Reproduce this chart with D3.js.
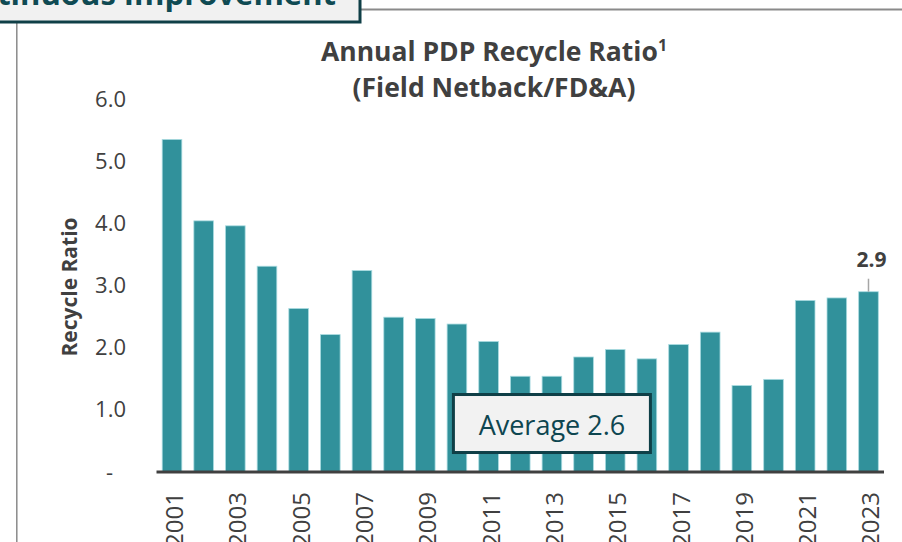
<!DOCTYPE html>
<html>
<head>
<meta charset="utf-8">
<script src="https://cdn.jsdelivr.net/npm/d3@7"></script>
<style>
  body { margin: 0; background: #fff; }
  svg { display: block; }
</style>
</head>
<body>
<svg id="chart" width="902" height="542"></svg>
<script>
// Annual PDP recycle ratio by year
const years = ["2001","2002","2003","2004","2005","2006","2007","2008","2009","2010","2011","2012",
               "2013","2014","2015","2016","2017","2018","2019","2020","2021","2022","2023"];
const ratios = [5.35, 4.04, 3.96, 3.31, 2.63, 2.21, 3.24, 2.49, 2.47, 2.38, 2.10, 1.54,
                1.54, 1.85, 1.97, 1.82, 2.05, 2.25, 1.39, 1.49, 2.76, 2.80, 2.90];
const yTicks = [0, 1, 2, 3, 4, 5, 6];
const yTickLabels = ["-", "1.0", "2.0", "3.0", "4.0", "5.0", "6.0"];
const xTickYears = years.filter((d, i) => i % 2 === 0);
const averageRatio = 2.6;

const FONT = "'Open Sans', 'Noto Sans', sans-serif";
const TEXT = "#404040";
const BAR = "#31919b";
const DARK_TEAL = "#0f3f47";

const svg = d3.select("#chart").style("font-family", FONT);

const x = d3.scaleBand().domain(years).range([156.5, 884]).paddingInner(0.38).paddingOuter(0.18);
const y = d3.scaleLinear().domain([0, 6]).range([472, 99]);

// Section frame lines
svg.append("line").attr("x1", 360).attr("x2", 902).attr("y1", 9.5).attr("y2", 9.5)
  .attr("stroke", "#8a8a8a").attr("stroke-width", 2);
svg.append("line").attr("x1", 16.8).attr("x2", 16.8).attr("y1", 22).attr("y2", 542)
  .attr("stroke", "#8a8a8a").attr("stroke-width", 1.5);

// Section header tab
svg.append("rect").attr("x", -4).attr("y", -30).attr("width", 364).attr("height", 52)
  .attr("fill", "#f1f1f1").attr("stroke", DARK_TEAL).attr("stroke-width", 3);
svg.append("text").attr("x", 336).attr("y", 5).attr("text-anchor", "end")
  .attr("font-size", 31).attr("font-weight", 700).attr("fill", "#0f4a53")
  .text("Continuous Improvement");

// Title
const title = svg.append("text").attr("text-anchor", "middle").attr("fill", TEXT)
  .attr("font-weight", 700).attr("font-size", 26.5);
const t1 = title.append("tspan").attr("x", 494).attr("y", 61);
t1.append("tspan").text("Annual PDP Recycle Ratio");
t1.append("tspan").attr("font-size", 16).attr("dy", -10).text("1");
title.append("tspan").attr("x", 494).attr("y", 97).text("(Field Netback/FD&A)");

// Y axis title
svg.append("text").attr("transform", "translate(77,287) rotate(-90)")
  .attr("text-anchor", "middle").attr("font-weight", 700).attr("font-size", 21)
  .attr("fill", TEXT).text("Recycle Ratio");

// Y axis tick labels (the zero dash sits inset, accounting style)
const yAxis = svg.append("g").attr("transform", "translate(135,0)")
  .call(d3.axisLeft(y).tickValues(yTicks).tickSize(0).tickPadding(9)
    .tickFormat((d, i) => yTickLabels[i]));
yAxis.select(".domain").remove();
yAxis.selectAll("text").attr("font-family", FONT).attr("font-size", 22).attr("fill", TEXT)
  .attr("dx", d => d === 0 ? -13 : 0);

// Bars
svg.append("g").selectAll("rect").data(years).join("rect")
  .attr("x", d => x(d))
  .attr("width", x.bandwidth())
  .attr("y", (d, i) => y(ratios[i]))
  .attr("height", (d, i) => y(0) - y(ratios[i]))
  .attr("fill", BAR)
  .attr("stroke", "#a9dbe0").attr("stroke-width", 0.8);

// X axis
const xAxis = svg.append("g").attr("transform", `translate(0,${y(0)})`)
  .call(d3.axisBottom(x).tickValues(xTickYears).tickSize(0));
xAxis.select(".domain").remove();
xAxis.selectAll("text")
  .attr("font-family", FONT).attr("font-size", 24).attr("fill", TEXT)
  .attr("transform", "rotate(-90)")
  .attr("text-anchor", "end")
  .attr("x", -20).attr("y", 11).attr("dy", 0);
svg.append("line").attr("x1", 156.5).attr("x2", 884).attr("y1", y(0)).attr("y2", y(0))
  .attr("stroke", "#404040").attr("stroke-width", 3);

// Latest value callout
const lastYear = years[years.length - 1];
const lastVal = ratios[ratios.length - 1];
const lx = x(lastYear) + x.bandwidth() / 2;
svg.append("line").attr("x1", lx).attr("x2", lx).attr("y1", y(lastVal) - 13).attr("y2", y(lastVal))
  .attr("stroke", "#a6a6a6").attr("stroke-width", 1.5);
svg.append("text").attr("x", lx + 3).attr("y", y(lastVal) - 25).attr("text-anchor", "middle")
  .attr("font-weight", 700).attr("font-size", 21).attr("fill", TEXT)
  .text(d3.format(".1f")(lastVal));

// Average annotation
const ax = x("2013") + x.bandwidth() / 2;
const ay = y(0.78);
svg.append("rect").attr("x", ax - 98.5).attr("y", ay - 29).attr("width", 197).attr("height", 58)
  .attr("fill", "#f2f2f2").attr("stroke", DARK_TEAL).attr("stroke-width", 3);
svg.append("text").attr("x", ax).attr("y", ay + 11).attr("text-anchor", "middle")
  .attr("font-size", 27).attr("fill", "#0e4650")
  .text("Average " + d3.format(".1f")(averageRatio));
</script>
</body>
</html>
